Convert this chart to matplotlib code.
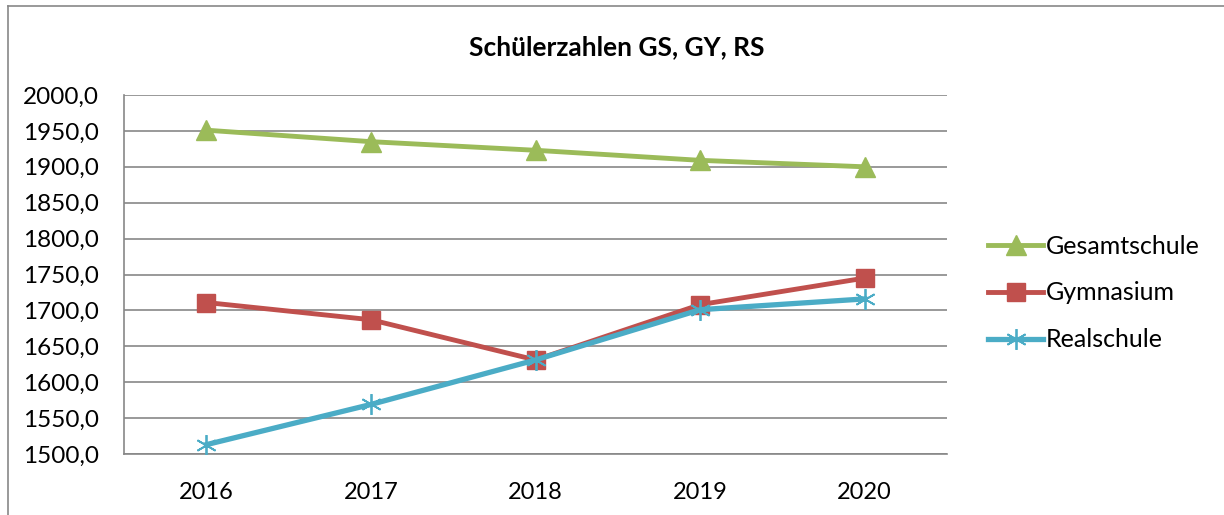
import matplotlib.pyplot as plt
from matplotlib.lines import Line2D

years = ['2016', '2017', '2018', '2019', '2020']
gesamtschule = [1951, 1935, 1923, 1909, 1900]
gymnasium = [1711, 1687, 1631, 1708, 1745]
realschule = [1513, 1569, 1631, 1701, 1716]
yticks = [1500, 1550, 1600, 1650, 1700, 1750, 1800, 1850, 1900, 1950, 2000]

plt.rcParams['font.family'] = ['Lato', 'DejaVu Sans']

fig = plt.figure(figsize=(12.24, 5.15), dpi=100)
ax = fig.add_axes([124 / 1224, 1 - 454 / 515, 823 / 1224, 359 / 515])

x = range(len(years))
ax.plot(x, gesamtschule, color='#9BBB59', lw=3.5, marker='^', ms=14, label='Gesamtschule', zorder=3)
ax.plot(x, gymnasium, color='#C0504D', lw=3.5, marker='s', ms=13, label='Gymnasium', zorder=3)
ax.plot(x, realschule, color='#4BACC6', lw=3.8, marker=(6, 2, 0), ms=15, mew=1.3,
        label='Realschule', zorder=4)

ax.set_xlim(-0.5, 4.5)
ax.set_ylim(1500, 2000)
ax.set_xticks(list(x))
ax.set_xticklabels(years)
ax.set_yticks(yticks)
ax.set_yticklabels([f'{v},0' for v in yticks])
ax.grid(axis='y', color='#878787', lw=1.2)
ax.set_axisbelow(True)
for s in ['top', 'right']:
    ax.spines[s].set_visible(False)
for s in ['left', 'bottom']:
    ax.spines[s].set_color('#878787')
    ax.spines[s].set_linewidth(1.2)
ax.tick_params(axis='x', length=0, pad=20, labelsize=17)
ax.tick_params(axis='y', length=0, pad=18, labelsize=17.5)

fig.text(617 / 1224, 1 - 47 / 515, 'Schülerzahlen GS, GY, RS', ha='center', va='center',
         fontsize=19, fontweight='bold')

handles, labels = ax.get_legend_handles_labels()
fig.legend(handles, labels, loc='center left', bbox_to_anchor=(988 / 1224, 1 - 293 / 515),
           frameon=False, fontsize=18, handlelength=2.2, handletextpad=0.12,
           labelspacing=0.95, borderpad=0, borderaxespad=0)

# outer chart border (top and left visible)
fig.add_artist(Line2D([8 / 1224, 8 / 1224], [0, 1 - 6 / 515], color='#878787', lw=1.2))
fig.add_artist(Line2D([8 / 1224, 1], [1 - 6 / 515, 1 - 6 / 515], color='#878787', lw=1.2))

fig.savefig('out.png', dpi=100)
